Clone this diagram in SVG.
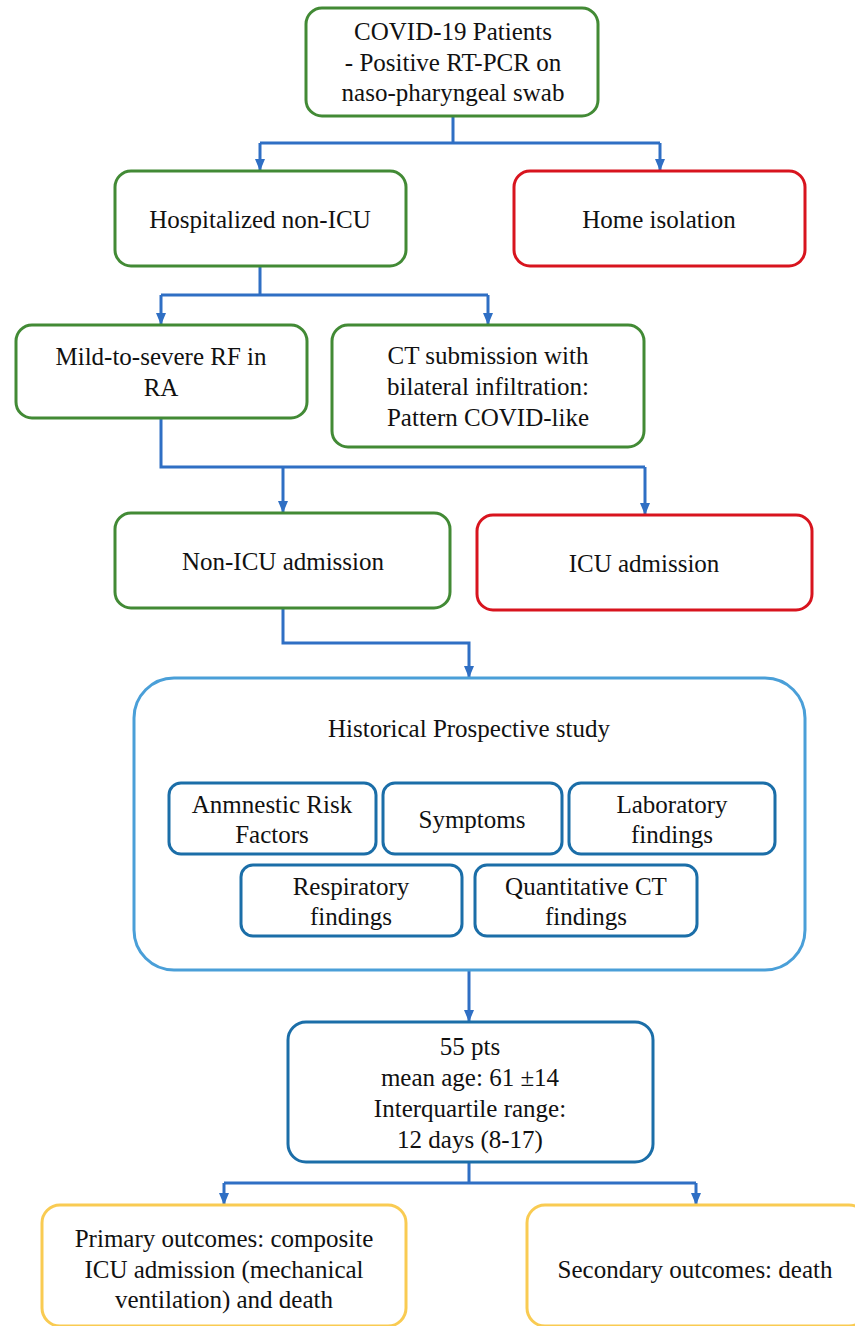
<svg xmlns="http://www.w3.org/2000/svg" width="855" height="1326" viewBox="0 0 855 1326">
<defs>
<marker id="ah" markerUnits="userSpaceOnUse" markerWidth="12" markerHeight="10" refX="12" refY="5" orient="auto" viewBox="0 0 12 10">
<path d="M0,0 L12,5 L0,10 Z" fill="#2f6fc4"/>
</marker>
</defs>
<style>
rect{fill:#fff;stroke-width:3}
.g{stroke:#428a35}
.r{stroke:#d8141e}
.b{stroke:#4a9fd8}
.d{stroke:#1b6ea8}
.y{stroke:#f9cb52}
text{font-family:"Liberation Serif","Times New Roman",serif;font-size:25px;fill:#111;text-anchor:middle}
.c{fill:none;stroke:#2f6fc4;stroke-width:3}
.a{marker-end:url(#ah)}
</style>
<rect width="855" height="1326" fill="#fff" style="stroke:none"/>
<g id="connectors">
<path class="c" d="M453,116 V143 M260,143 H660"/>
<path class="c a" d="M260,143 V171"/>
<path class="c a" d="M660,143 V171"/>
<path class="c" d="M260,266 V295 M161,295 H488"/>
<path class="c a" d="M161,295 V325"/>
<path class="c a" d="M488,295 V325"/>
<path class="c" d="M161,418 V467 H645"/>
<path class="c a" d="M283,467 V513"/>
<path class="c a" d="M645,467 V515"/>
<path class="c a" d="M283,608 V643 H469 V678"/>
<path class="c a" d="M469,970 V1022"/>
<path class="c" d="M469,1162 V1183 M224,1183 H696"/>
<path class="c a" d="M224,1183 V1205"/>
<path class="c a" d="M696,1183 V1205"/>
</g>
<g id="n1"><rect class="g" x="306" y="8" width="292" height="108" rx="16"/>
<text x="453" y="40">COVID-19 Patients</text><text x="453" y="71">- Positive RT-PCR on</text><text x="453" y="101">naso-pharyngeal swab</text></g>
<g id="n2"><rect class="g" x="115" y="171" width="291" height="95" rx="16"/><text x="260" y="228">Hospitalized non-ICU</text></g>
<g id="n3"><rect class="r" x="514" y="171" width="291" height="95" rx="16"/><text x="659" y="228">Home isolation</text></g>
<g id="n4"><rect class="g" x="16" y="325" width="291" height="93" rx="16"/><text x="161" y="365">Mild-to-severe RF in</text><text x="161" y="396">RA</text></g>
<g id="n5"><rect class="g" x="332" y="325" width="312" height="122" rx="16"/><text x="488" y="364">CT submission with</text><text x="488" y="395">bilateral infiltration:</text><text x="488" y="426">Pattern COVID-like</text></g>
<g id="n6"><rect class="g" x="115" y="513" width="335" height="95" rx="16"/><text x="283" y="570">Non-ICU admission</text></g>
<g id="n7"><rect class="r" x="477" y="515" width="335" height="95" rx="16"/><text x="644" y="572">ICU admission</text></g>
<g id="n8"><rect class="b" x="134" y="678" width="671" height="292" rx="40"/><text x="469" y="737">Historical Prospective study</text></g>
<g id="n9"><rect class="d" x="169" y="783" width="207" height="71" rx="12"/><text x="272" y="813">Anmnestic Risk</text><text x="272" y="843">Factors</text></g>
<g id="n10"><rect class="d" x="383" y="783" width="179" height="71" rx="12"/><text x="472" y="828">Symptoms</text></g>
<g id="n11"><rect class="d" x="569" y="783" width="206" height="71" rx="12"/><text x="672" y="813">Laboratory</text><text x="672" y="843">findings</text></g>
<g id="n12"><rect class="d" x="241" y="865" width="221" height="71" rx="12"/><text x="351" y="895">Respiratory</text><text x="351" y="925">findings</text></g>
<g id="n13"><rect class="d" x="475" y="865" width="222" height="71" rx="12"/><text x="586" y="895">Quantitative CT</text><text x="586" y="925">findings</text></g>
<g id="n14"><rect class="d" x="288" y="1022" width="365" height="140" rx="18"/><text x="470" y="1055">55 pts</text><text x="470" y="1086">mean age: 61 ±14</text><text x="470" y="1117">Interquartile range:</text><text x="470" y="1148">12 days (8-17)</text></g>
<g id="n15"><rect class="y" x="42" y="1205" width="364" height="121" rx="18"/><text x="224" y="1247">Primary outcomes: composite</text><text x="224" y="1278">ICU admission (mechanical</text><text x="224" y="1308">ventilation) and death</text></g>
<g id="n16"><rect class="y" x="527" y="1205" width="340" height="121" rx="18"/><text x="695" y="1278">Secondary outcomes: death</text></g>
</svg>
